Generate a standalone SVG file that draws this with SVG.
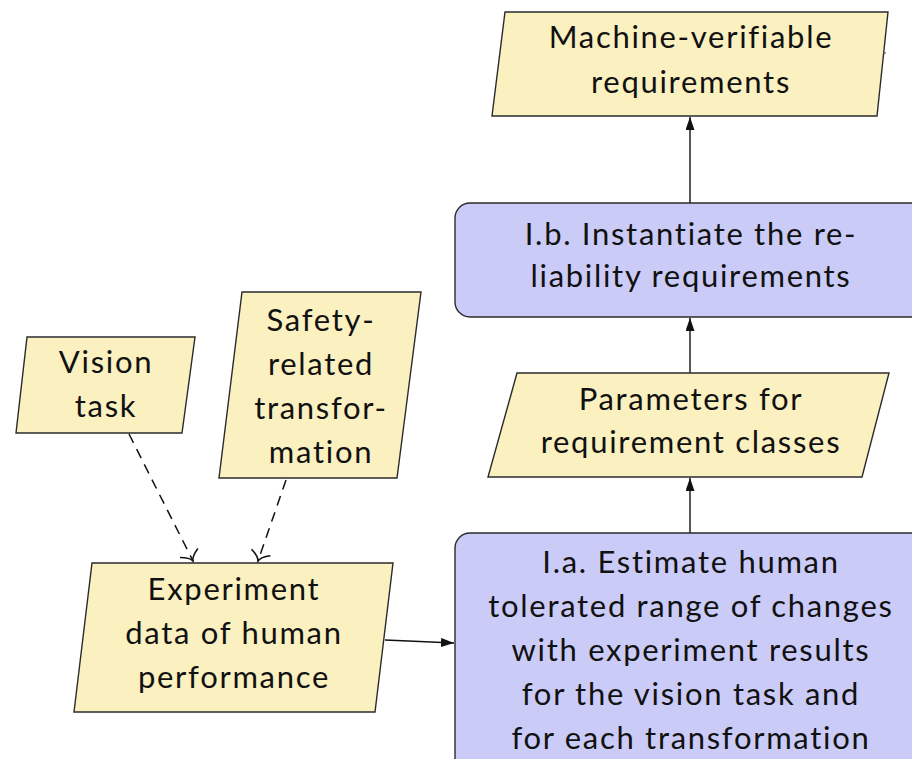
<svg xmlns="http://www.w3.org/2000/svg" width="912" height="759" viewBox="0 0 912 759">
  <style>
    .data { fill: #FAF0C0; stroke: #2b2b2b; stroke-width: 1.4; }
    .proc { fill: #CBCBF8; stroke: #2b2b2b; stroke-width: 1.4; }
    text { font-family: Lato, "Open Sans", sans-serif; font-size: 31px; letter-spacing: 1.7px; font-variant-ligatures: none; fill: #111; text-anchor: middle; }
    .flow { fill: none; stroke: #111; stroke-width: 1.4; }
    .dash { fill: none; stroke: #111; stroke-width: 1.5; stroke-dasharray: 10 7; }
  </style>
  <defs>
    <marker id="solid" viewBox="0 0 13 9" refX="13" refY="4.5" markerWidth="13" markerHeight="9" markerUnits="userSpaceOnUse" orient="auto">
      <path d="M0 0 L13 4.5 L0 9 Z" fill="#111"/>
    </marker>
    <marker id="open" viewBox="-12 -12 14 24" refX="0" refY="0" markerWidth="14" markerHeight="24" markerUnits="userSpaceOnUse" orient="auto">
      <path d="M-9 -10 C-6 -4 -3 -0.8 0 0 C-3 0.8 -6 4 -9 10" fill="none" stroke="#111" stroke-width="1.6"/>
    </marker>
  </defs>

  <!-- connectors -->
  <g id="connectors">
    <line class="flow" x1="690" y1="203" x2="690" y2="117" marker-end="url(#solid)"/>
    <line class="flow" x1="690" y1="373" x2="690" y2="318" marker-end="url(#solid)"/>
    <line class="flow" x1="690" y1="533" x2="690" y2="478" marker-end="url(#solid)"/>
    <line class="flow" x1="385" y1="640" x2="454" y2="643" marker-end="url(#solid)"/>
    <line class="dash" x1="129" y1="434" x2="193" y2="561" marker-end="url(#open)"/>
    <line class="dash" x1="286" y1="480" x2="258" y2="561" marker-end="url(#open)"/>
  </g>

  <!-- output: machine-verifiable requirements -->
  <g id="machine-verifiable">
    <polygon class="data" points="505,12 888,12 877,116 492,116"/>
    <line x1="883" y1="53" x2="886" y2="53" stroke="#444" stroke-width="1"/>
    <text x="691" y="48">Machine-verifiable</text>
    <text x="691" y="93">requirements</text>
  </g>

  <!-- step I.b -->
  <g id="instantiate">
    <rect class="proc" x="455" y="203" width="480" height="114" rx="15" ry="15"/>
    <text x="691" y="245">I.b. Instantiate the re-</text>
    <text x="691" y="287">liability requirements</text>
  </g>

  <!-- parameters -->
  <g id="parameters">
    <polygon class="data" points="517,373 889,373 862,477 488,477"/>
    <text x="691" y="410">Parameters for</text>
    <text x="691" y="453">requirement classes</text>
  </g>

  <!-- step I.a -->
  <g id="estimate">
    <rect class="proc" x="455" y="533" width="480" height="260" rx="15" ry="15"/>
    <text x="691" y="573">I.a. Estimate human</text>
    <text x="691" y="617">tolerated range of changes</text>
    <text x="691" y="661">with experiment results</text>
    <text x="691" y="705">for the vision task and</text>
    <text x="691" y="749">for each transformation</text>
  </g>

  <!-- experiment data -->
  <g id="experiment-data">
    <polygon class="data" points="92,563 393,563 375,712 74,712"/>
    <text x="234" y="600">Experiment</text>
    <text x="234" y="644">data of human</text>
    <text x="234" y="688">performance</text>
  </g>

  <!-- vision task -->
  <g id="vision-task">
    <polygon class="data" points="27,337 195,337 182,433 16,433"/>
    <text x="106" y="373">Vision</text>
    <text x="106" y="417">task</text>
  </g>

  <!-- safety-related transformation -->
  <g id="safety-transformation">
    <polygon class="data" points="242,292 421,292 397,478 219,478"/>
    <text x="321" y="331">Safety-</text>
    <text x="321" y="375">related</text>
    <text x="321" y="419">transfor-</text>
    <text x="321" y="463">mation</text>
  </g>
</svg>
